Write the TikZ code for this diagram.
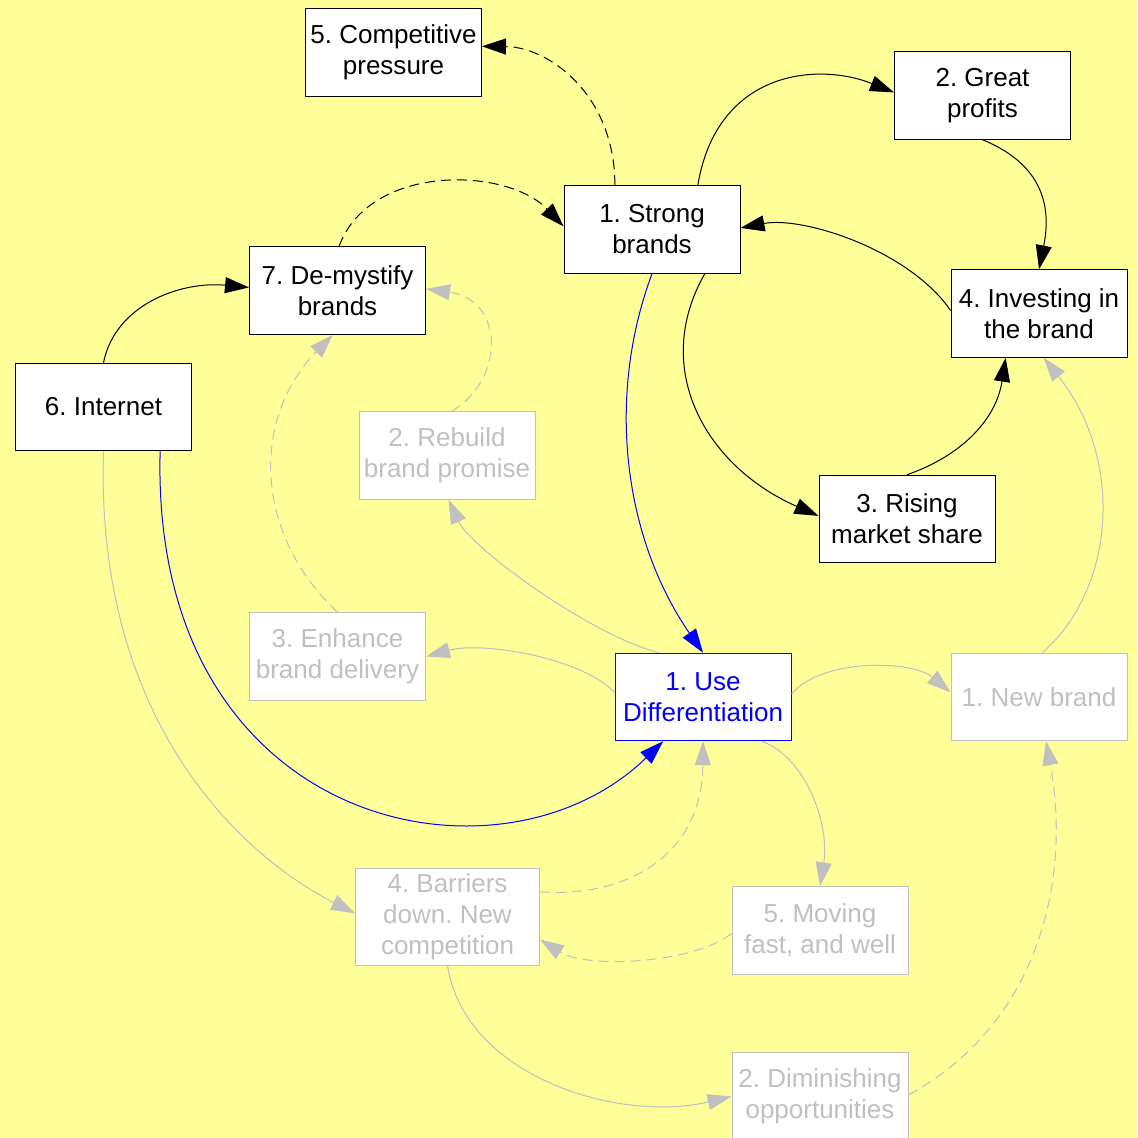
\documentclass[tikz,border=0pt]{standalone}
\usepackage{fontspec}
\setmainfont{Liberation Sans}
\frenchspacing
\usetikzlibrary{
    shapes,
    arrows.meta,
}
\definecolor{bgyellow}{HTML}{FFFF99}
\definecolor{fadedgrey}{HTML}{C0C0C0}
\newcommand{\boxwidth}{88pt}
\newcommand{\boxheight}{43.75pt}
\newcommand{\boxfont}{\fontsize{13}{15.5}\selectfont}
\tikzstyle{causearrow} = [-{Triangle[length=12pt,width=8pt]}, line width=0.5pt, black]
\tikzstyle{fadedarrow} = [causearrow, fadedgrey]
\tikzstyle{focusarrow} = [causearrow, blue]
\tikzstyle{weaklink} = [dash pattern=on 5pt off 3pt]
\tikzstyle{causebox} = [
  shape=rectangle,
  draw=black,
  text=black,
  fill=white,
  line width=0.5pt,
  align=center,
  inner sep=2pt,
  font=\boxfont,
  minimum width=\boxwidth,
  minimum height=\boxheight,
]
\tikzstyle{fadedbox} = [causebox, draw=fadedgrey, text=fadedgrey]
\tikzstyle{focusbox} = [causebox, draw=blue, text=blue]

\begin{document}
\begin{tikzpicture}[x=0.5pt, y=-0.5pt]
    \clip (0,0) rectangle (1137,1138);
    \fill[bgyellow] (0,0) rectangle (1137,1138);

    % strong brands loop
    \node[causebox] (comp) at (393.5,52.5) {5. Competitive\\pressure};
    \node[causebox] (great) at (982.5,95.5) {2. Great\\profits};
    \node[causebox] (strong) at (652,229.5) {1. Strong\\brands};
    \node[causebox] (demyst) at (337.5,290.5) {7. De-mystify\\brands};
    \node[causebox] (invest) at (1039,313.5) {4. Investing in\\the brand};
    \node[causebox] (internet) at (103.5,407) {6. Internet};
    \node[causebox] (rising) at (907,519) {3. Rising\\market share};

    % differentiation
    \node[fadedbox] (rebuild) at (447,455.5) {2. Rebuild\\brand promise};
    \node[fadedbox] (enhance) at (337.5,656.5) {3. Enhance\\brand delivery};
    \node[focusbox] (use) at (703,697) {1. Use\\Differentiation};
    \node[fadedbox] (newbrand) at (1039,697) {1. New brand};
    \node[fadedbox, minimum width=92pt, minimum height=48.5pt] (barriers) at (447.5,916.5) {4. Barriers\\down. New\\competition};
    \node[fadedbox] (moving) at (820,930.5) {5. Moving\\fast, and well};
    \node[fadedbox] (dimin) at (820,1096.5) {2. Diminishing\\opportunities};

    \draw[causearrow] (strong.44) .. controls (717,70) and (818,62) .. (great.178);
    \draw[causearrow] (great.south) .. controls (1032,160) and (1054,195) .. (invest.north);
    \draw[causearrow] (invest.178) .. controls (909,250) and (803,216) .. (strong.1);
    \draw[causearrow] (strong.-40) .. controls (650,370) and (707,467) .. (rising.178);
    \draw[causearrow] (rising.north) .. controls (961,456) and (996,420) .. (invest.-127);
    \draw[causearrow, weaklink] (strong.130) .. controls (615,95) and (549,47) .. (comp.4);
    \draw[causearrow, weaklink] (demyst.88) .. controls (370,163) and (507,167) .. (strong.178);
    \draw[causearrow] (internet.north) .. controls (115,305) and (180,281) .. (demyst.178);

    \draw[focusarrow] (strong.south) .. controls (605,400) and (625,540) .. (use.north);
    \draw[focusarrow] (internet.-38) .. controls (150,830) and (500,900) .. (use.-132);

    \draw[fadedarrow] (use.135) .. controls (590,635) and (470,547) .. (rebuild.-88);
    \draw[fadedarrow] (use.177) .. controls (582,658) and (483,641) .. (enhance.east);
    \draw[fadedarrow, weaklink] (enhance.north) .. controls (255,535) and (250,420) .. (demyst.-96);
    \draw[fadedarrow, weaklink] (rebuild.84) .. controls (505,380) and (505,300) .. (demyst.1);
    \draw[fadedarrow] (use.2) .. controls (822,658) and (912,660) .. (newbrand.177);
    \draw[fadedarrow] (newbrand.86) .. controls (1115,590) and (1125,460) .. (invest.-84);
    \draw[fadedarrow] (use.-37) .. controls (805,757) and (830,823) .. (moving.north);
    \draw[fadedarrow, weaklink] (moving.182) .. controls (690,965) and (585,968) .. (barriers.-14);
    \draw[fadedarrow, weaklink] (barriers.15) .. controls (620,898) and (702,860) .. (use.south);
    \draw[fadedarrow] (internet.south) .. controls (95,720) and (240,855) .. (barriers.178);
    \draw[fadedarrow] (barriers.south) .. controls (465,1077) and (619,1123) .. (dimin.west);
    \draw[fadedarrow, weaklink] (dimin.1) .. controls (1045,1020) and (1070,870) .. (newbrand.-81);
\end{tikzpicture}
\end{document}
